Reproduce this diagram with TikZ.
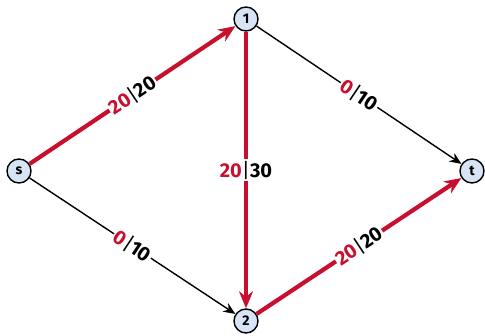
\documentclass[tikz,border=0pt]{standalone}
\usepackage{fontspec}
\setmainfont{Fira Sans}
\usetikzlibrary{arrows.meta}
\definecolor{flowred}{RGB}{200,16,46}
\definecolor{vertexblue}{RGB}{214,228,245}
\tikzset{
  vertex/.style={circle,draw,line width=1.4pt,fill=vertexblue,minimum size=24pt,inner sep=0pt,font=\bfseries\fontsize{14}{14}\selectfont},
  capedge/.style={-{Stealth[length=12pt,width=10pt]},line width=1.4pt},
  flowedge/.style={-{Stealth[length=17pt,width=14pt]},line width=4.2pt,draw=flowred},
  flowlabel/.style={fill=white,inner sep=1.5pt,font=\bfseries\fontsize{20}{20}\selectfont}
}
\newcommand{\flowcap}[2]{\textcolor{flowred}{#1}{\mdseries|}#2}
\begin{document}
\begin{tikzpicture}[x=1pt,y=-1pt]
\useasboundingbox (0,0) rectangle (485,335);
% vertices
\node[vertex] (s) at (19,171) {s};
\node[vertex] (n1) at (246,19) {1};
\node[vertex] (n2) at (246,321) {2};
\node[vertex] (t) at (472,171) {t};
% edges with flow|capacity
\draw[flowedge] (s) -- node[flowlabel,sloped]{\flowcap{20}{20}} (n1);
\draw[capedge] (n1) -- node[flowlabel,sloped]{\flowcap{0}{10}} (t);
\draw[flowedge] (n1) -- node[flowlabel]{\flowcap{20}{30}} (n2);
\draw[capedge] (s) -- node[flowlabel,sloped]{\flowcap{0}{10}} (n2);
\draw[flowedge] (n2) -- node[flowlabel,sloped]{\flowcap{20}{20}} (t);
\end{tikzpicture}
\end{document}
